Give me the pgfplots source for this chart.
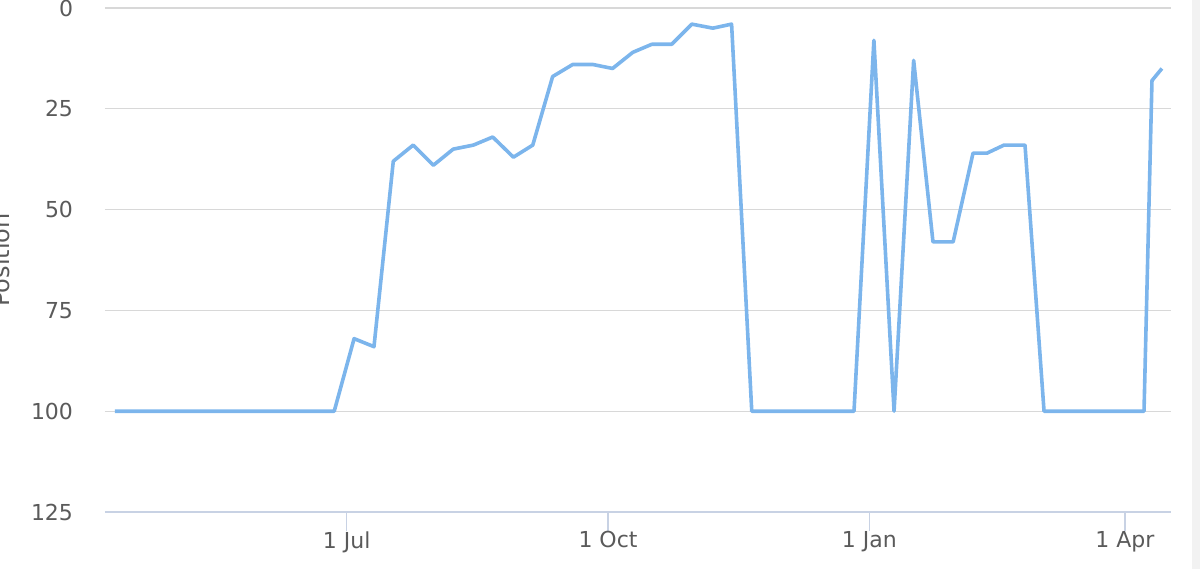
\documentclass[border=0pt]{standalone}
\usepackage{pgfplots}
\pgfplotsset{compat=1.18}
\usepackage{fontspec}
\setmainfont{DejaVu Sans}
\definecolor{linec}{HTML}{7CB5EC}
\definecolor{gridc}{HTML}{D8D8D8}
\definecolor{axisc}{HTML}{C8D2E4}
\definecolor{textc}{HTML}{5A5A5A}
\definecolor{stripc}{HTML}{F2F2F2}
\begin{document}
\begin{tikzpicture}
\begin{axis}[
  at={(0,0)}, anchor=south west,
  scale only axis,
  width=533pt, height=252pt,
  xmin=-85.1, xmax=290.2,
  ymin=0, ymax=125,
  y dir=reverse,
  axis x line*=bottom,
  axis y line*=left,
  x axis line style={draw=axisc, line width=0.6pt},
  y axis line style={draw=none},
  ytick={0,25,50,75,100,125},
  xtick={0,92,184,274},
  xticklabels={1 Jul, 1 Oct, 1 Jan, 1 Apr},
  ymajorgrids,
  grid style={draw=gridc, line width=0.6pt},
  ytick style={draw=none},
  xtick style={draw=axisc, line width=0.6pt},
  xtick align=outside,
  ytick align=inside,
  major tick length=9.5pt,
  /pgf/number format/assume math mode=true,
  tick label style={font=\fontsize{11}{13}\selectfont, text=textc},
  yticklabel style={inner sep=0pt, anchor=east, xshift=-15.8pt},
  xticklabel style={inner sep=0pt, anchor=north, yshift=0pt},
  ylabel={Position},
  every axis y label/.style={at={(axis description cs:0,0.5)}, xshift=-47.5pt, rotate=90, anchor=base, font=\fontsize{12}{14}\selectfont, text=textc},
  clip=false,
]
\addplot[color=linec, line width=1.8pt, line join=round] table {
x y
-81.6 100
-74.6 100
-67.6 100
-60.6 100
-53.6 100
-46.6 100
-39.6 100
-32.6 100
-25.6 100
-18.6 100
-11.6 100
-4.4 100
2.6 82
9.6 84
16.4 38
23.4 34
30.5 39
37.5 35
44.6 34
51.4 32
58.7 37
65.5 34
72.5 17
79.6 14
86.6 14
93.6 15
100.7 11
107.4 9
114.4 9
121.5 4
128.9 5
135.5 4
142.6 100
149.8 100
157.0 100
164.2 100
171.4 100
178.6 100
185.6 8
192.7 100
199.6 13
206.4 58
213.5 58
220.5 36
225.4 36
231.4 34
238.8 34
245.5 100
252.5 100
259.5 100
266.5 100
273.5 100
280.7 100
283.5 18
287.0 15
};
\end{axis}
\fill[stripc] (543.5pt,-28.5pt) rectangle (547.5pt,256pt);
\pgfresetboundingbox
\useasboundingbox (-52.5pt,-28.5pt) rectangle (547.5pt,256pt);
\end{tikzpicture}
\end{document}
